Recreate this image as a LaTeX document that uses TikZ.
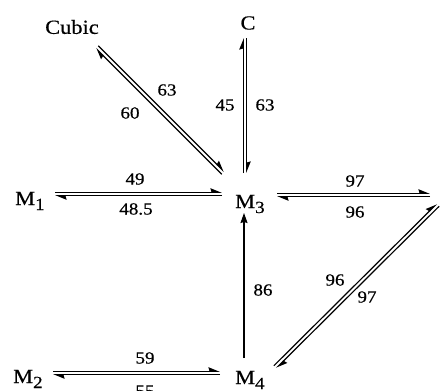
\documentclass[tikz,border=0pt]{standalone}
\usepackage{fontspec}
\setmainfont[FakeStretch=1.12,FakeBold=0.5]{Liberation Serif}
\usetikzlibrary{arrows.meta,calc}
\newcommand\msub[1]{\raisebox{-5pt}{\fontsize{17}{17}\selectfont #1}}
\def\pairgap{1.7pt}
\newcommand\eqpair[2]{%
  \draw[harp] ($(#1)!\pairgap!90:(#2)$) -- ($(#2)!\pairgap!-90:(#1)$);
  \draw[harp] ($(#2)!\pairgap!90:(#1)$) -- ($(#1)!\pairgap!-90:(#2)$);
}
\begin{document}
\begin{tikzpicture}[x=1pt,y=-1pt,
  harp/.style={line width=1.2pt,-{Stealth[harpoon,length=10pt,width=8pt,inset=1pt]}},
  single/.style={line width=1.2pt,-{Stealth[length=10pt,width=7pt,inset=1pt]}},
  species/.style={inner sep=0pt,font=\fontsize{20}{20}\selectfont},
  rate/.style={inner sep=0pt,font=\fontsize{17}{17}\selectfont}]
\useasboundingbox (0,0) rectangle (445,391);
\clip (0,0) rectangle (445,391);

% species
\node[species] (Cubic) at (72,27) {Cubic};
\node[species] (C) at (248,23) {C};
\node[species,anchor=base west] (M1) at (15,205) {M\msub{1}};
\node[species,anchor=base west] (M3) at (235,208) {M\msub{3}};
\node[species,anchor=base west] (M2) at (13,383) {M\msub{2}};
\node[species,anchor=base west] (M4) at (235,384) {M\msub{4}};

% connector end points
\coordinate (a1) at (55,194);   \coordinate (a2) at (222,194);
\coordinate (b1) at (53,373);   \coordinate (b2) at (220,373);
\coordinate (c1) at (97,47);    \coordinate (c2) at (223,173);
\coordinate (d1) at (245,173);  \coordinate (d2) at (245,38);
\coordinate (e1) at (277,195);  \coordinate (e2) at (430,195);
\coordinate (f1) at (438,205);  \coordinate (f2) at (275,367);
\coordinate (g1) at (244,358);  \coordinate (g2) at (244,213);

\eqpair{a1}{a2}
\eqpair{b1}{b2}
\eqpair{c1}{c2}
\eqpair{d1}{d2}
\eqpair{e1}{e2}
\eqpair{f1}{f2}
\draw[single] (g1) -- (g2);

% rate labels
\node[rate] (r63a) at (167,90) {63};
\node[rate] (r60) at (130,113) {60};
\node[rate] (r45) at (225,105) {45};
\node[rate] (r63b) at (265,105) {63};
\node[rate] (r49) at (135,179) {49};
\node[rate] (r485) at (136,209) {48.5};
\node[rate] (r97a) at (355,181) {97};
\node[rate] (r96a) at (355,212) {96};
\node[rate] (r86) at (263,290) {86};
\node[rate] (r96b) at (335,280) {96};
\node[rate] (r97b) at (367,297) {97};
\node[rate] (r59) at (145,358) {59};
\node[rate] (r55) at (145,391) {55};
\end{tikzpicture}
\end{document}
